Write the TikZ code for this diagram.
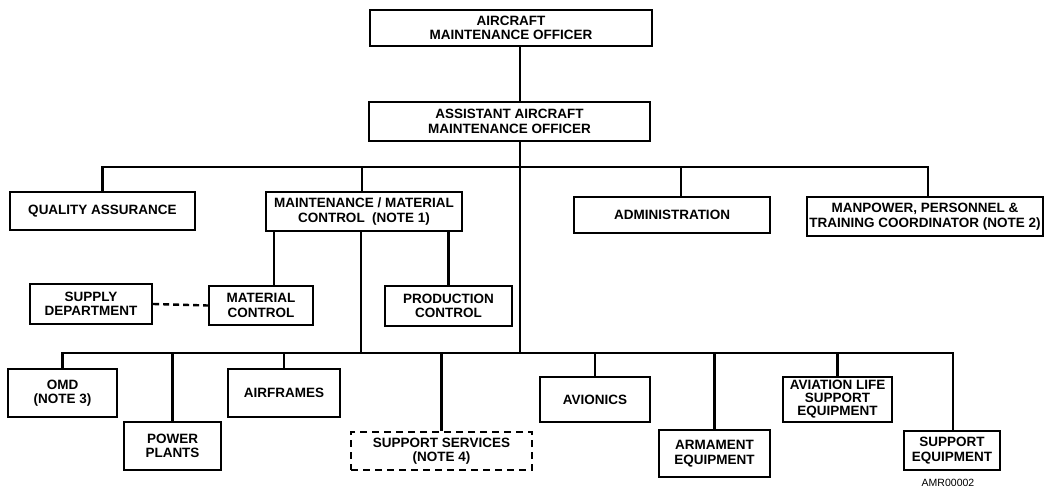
\documentclass[tikz,border=0pt]{standalone}
\usepackage{fontspec}
\setmainfont{Liberation Sans}
\tikzset{
  unit/.style={x=1pt,y=-1pt},
  box/.style={draw, line width=2.2pt, inner sep=0pt, align=center,
              font=\fontsize{13.5}{14.5}\selectfont\bfseries},
  dbox/.style={box, dash pattern=on 7pt off 5pt},
  sz/.style 2 args={minimum width=#1pt, minimum height=#2pt},
  conn/.style={line width=2.4pt},
  dconn/.style={line width=2.4pt, dash pattern=on 6pt off 4pt},
  tag/.style={font=\fontsize{10.5}{12}\selectfont}
}
\begin{document}
\begin{tikzpicture}[unit]
\useasboundingbox (0,0) rectangle (1053,489);

% --- command levels
\node[box, sz={282}{36}] (top) at (511,28) {AIRCRAFT\\MAINTENANCE OFFICER};
\node[box, sz={281}{39}] (asst) at (509.5,121.5) {ASSISTANT AIRCRAFT\\MAINTENANCE OFFICER};

% --- first tier
\node[box, sz={185}{38}] (qa) at (102.5,211) {QUALITY ASSURANCE};
\node[box, sz={196}{39}] (mmc) at (364,211.5) {MAINTENANCE / MATERIAL\\CONTROL\ \ (NOTE 1)};
\node[box, sz={196}{36}] (admin) at (672,215) {ADMINISTRATION};
\node[box, sz={236}{39}] (mptc) at (925,216.5) {MANPOWER, PERSONNEL \&\\TRAINING COORDINATOR (NOTE 2)};

% --- under maintenance / material control
\node[box, sz={122}{40}] (supply) at (91,304) {SUPPLY\\DEPARTMENT};
\node[box, sz={104}{39}] (matctl) at (261,305.5) {MATERIAL\\CONTROL};
\node[box, sz={127}{40}] (prodctl) at (448.5,306) {PRODUCTION\\CONTROL};

% --- work centers
\node[box, sz={109}{48}] (omd) at (62.5,393) {OMD\\(NOTE 3)};
\node[box, sz={97}{48}] (power) at (172.5,446) {POWER\\PLANTS};
\node[box, sz={112}{48}] (airframes) at (284,393) {AIRFRAMES};
\node[dbox, sz={181}{38}] (supserv) at (441.5,451) {SUPPORT SERVICES\\(NOTE 4)};
\node[box, sz={110}{45}] (avionics) at (595,399.5) {AVIONICS};
\node[box, sz={111}{47}] (armament) at (714.5,453.5) {ARMAMENT\\EQUIPMENT};
\node[box, sz={109}{45}, font=\fontsize{13.5}{13}\selectfont\bfseries] (alse) at (837.5,399.5) {AVIATION LIFE\\SUPPORT\\EQUIPMENT};
\node[box, sz={96}{39}] (supeq) at (952,450.5) {SUPPORT\\EQUIPMENT};

\node[tag] (code) at (948,483) {AMR00002};

% --- junction points
\coordinate (spine) at (520,167);
\coordinate (bus1r) at (928,167);
\coordinate (j1mmc) at (362,167);
\coordinate (j1adm) at (681,167);
\coordinate (mcx) at (274,0);
\coordinate (mmcx) at (361,0);
\coordinate (bus2) at (520,353);
\coordinate (bus2r) at (953,353);

% --- connectors
\draw[conn] (top.south -| spine) -- (asst.north -| spine);
\draw[conn] (asst.south -| spine) -- (bus2);
\draw[conn] (qa.north) |- (bus1r) -- (bus1r |- mptc.north);
\draw[conn] (j1mmc) -- (j1mmc |- mmc.north);
\draw[conn] (j1adm) -- (j1adm |- admin.north);

\draw[conn] (mmc.south -| mcx) -- (matctl.north -| mcx);
\draw[conn] (mmc.south -| prodctl.north) -- (prodctl.north);
\draw[conn] (mmc.south -| mmcx) -- (bus2 -| mmcx);
\draw[dconn] (supply.east) -- (matctl.west);

\draw[conn] (omd.north) |- (bus2r) -- (bus2r |- supeq.north);
\draw[conn] (bus2 -| power.north) -- (power.north);
\draw[conn] (bus2 -| airframes.north) -- (airframes.north);
\draw[conn] (bus2 -| supserv.north) -- (supserv.north);
\draw[conn] (bus2 -| avionics.north) -- (avionics.north);
\draw[conn] (bus2 -| armament.north) -- (armament.north);
\draw[conn] (bus2 -| alse.north) -- (alse.north);
\end{tikzpicture}
\end{document}
